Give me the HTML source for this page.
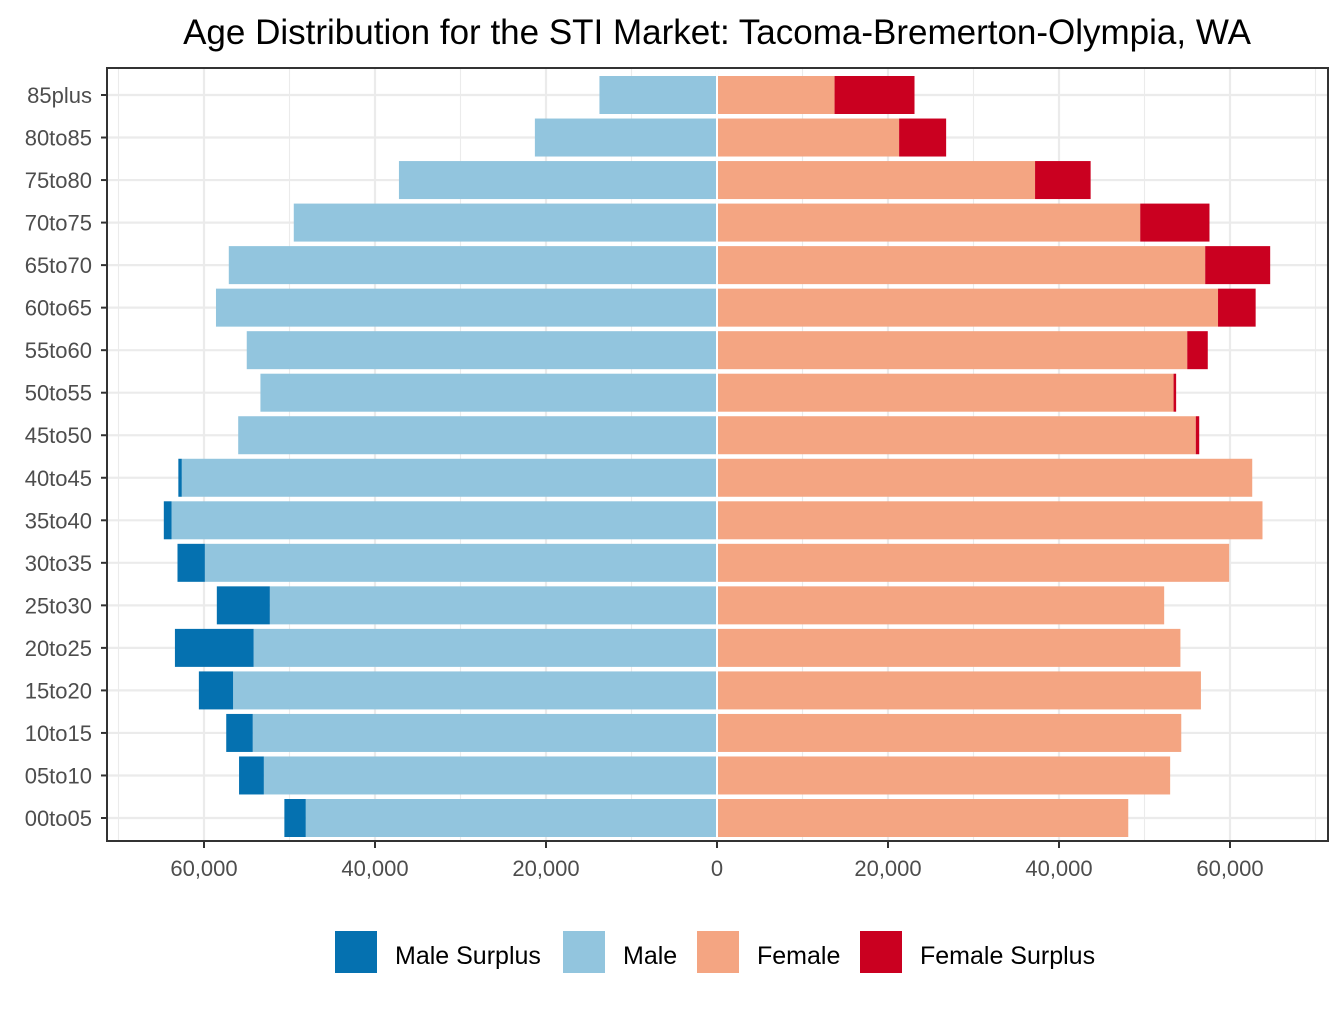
<!DOCTYPE html>
<html><head><meta charset="utf-8"><style>
body{margin:0;background:#fff;}
svg text{font-family:"Liberation Sans",Arial,sans-serif;}
</style></head><body>
<svg id="chart" width="1344" height="1008" xmlns="http://www.w3.org/2000/svg">
<rect width="1344" height="1008" fill="#fff"/>
<text x="717" y="44" font-size="35" text-anchor="middle" fill="#000">Age Distribution for the STI Market: Tacoma-Bremerton-Olympia, WA</text>
<g id="grid"></g><g id="bars"></g><g id="axes"></g>
<g id="legend">
<rect x="335" y="931" width="42" height="42" fill="#0571b0"/>
<text x="395" y="964" font-size="25">Male Surplus</text>
<rect x="563" y="931" width="42" height="42" fill="#92c5de"/>
<text x="623" y="964" font-size="25">Male</text>
<rect x="697" y="931" width="42" height="42" fill="#f4a582"/>
<text x="757" y="964" font-size="25">Female</text>
<rect x="860" y="931" width="42" height="42" fill="#ca0020"/>
<text x="920" y="964" font-size="25">Female Surplus</text>
</g>
</svg>
<script>
const categories=["85plus","80to85","75to80","70to75","65to70","60to65","55to60","50to55","45to50","40to45","35to40","30to35","25to30","20to25","15to20","10to15","05to10","00to05"];
const maleTotal=[13750,21300,37200,49500,57100,58600,55000,53400,56000,63000,64700,63100,58500,63400,60600,57400,55900,50600];
const femaleTotal=[23100,26800,43700,57600,64700,63000,57400,53700,56400,62600,63800,59900,52300,54200,56600,54300,53000,48100];
const tickValues=[-60000,-40000,-20000,0,20000,40000,60000];
const tickLabels=["60,000","40,000","20,000","0","20,000","40,000","60,000"];
const NS="http://www.w3.org/2000/svg";
const L=107,R=1328,T=68,B=841,x0=717,k=513/60000;
const X=v=>x0+v*k;
const Y=i=>95+i*(818-95)/(categories.length-1);
const bh=38;
function mk(p,tag,a){const e=document.createElementNS(NS,tag);for(const n in a)e.setAttribute(n,a[n]);document.getElementById(p).appendChild(e);return e;}
// grid
for(let v=-70000;v<=70000;v+=10000){const x=X(v);if(x<L||x>R)continue;
 const g=mk("grid","line",{x1:x,x2:x,y1:T,y2:B,stroke:"#ebebeb","stroke-width":v%20000===0?2.2:1.1});
 
 }
categories.forEach((c,i)=>{const g=mk("grid","line",{x1:L,x2:R,y1:Y(i),y2:Y(i),stroke:"#ebebeb","stroke-width":2.2});
 
 });
// bars
categories.forEach((c,i)=>{const m=maleTotal[i],f=femaleTotal[i],b=Math.min(m,f),y=Y(i)-bh/2;
 let r=mk("bars","rect",{x:X(-b),y:y,width:X(0)-X(-b),height:bh,fill:"#92c5de"});
 
 
 r=mk("bars","rect",{x:X(0),y:y,width:X(b)-X(0),height:bh,fill:"#f4a582"});
 
 
 if(m>f){r=mk("bars","rect",{x:X(-m),y:y,width:X(-b)-X(-m),height:bh,fill:"#0571b0"});
  
  }
 if(f>m){r=mk("bars","rect",{x:X(b),y:y,width:X(f)-X(b),height:bh,fill:"#ca0020"});
  
  }
 const t=mk("axes","text",{x:L-15,y:Y(i)+8,"font-size":22,"text-anchor":"end",fill:"#4d4d4d"});t.textContent=c;
 
 
 const tk=mk("axes","line",{x1:L-6,x2:L,y1:Y(i),y2:Y(i),stroke:"#333","stroke-width":2});
 
 
});
// zero separator
const z=mk("bars","line",{x1:X(0),x2:X(0),y1:T,y2:B,stroke:"#fff","stroke-width":2});


// x axis
tickValues.forEach((v,i)=>{const x=X(v);
 const tk=mk("axes","line",{x1:x,x2:x,y1:B,y2:B+7,stroke:"#333","stroke-width":2});
 
 
 const t=mk("axes","text",{x:x,y:B+35,"font-size":22,"text-anchor":"middle",fill:"#4d4d4d"});t.textContent=tickLabels[i];
 
 });
const fr=mk("axes","rect",{x:L,y:T,width:R-L,height:B-T,fill:"none",stroke:"#333","stroke-width":2});


</script>
</body></html>
